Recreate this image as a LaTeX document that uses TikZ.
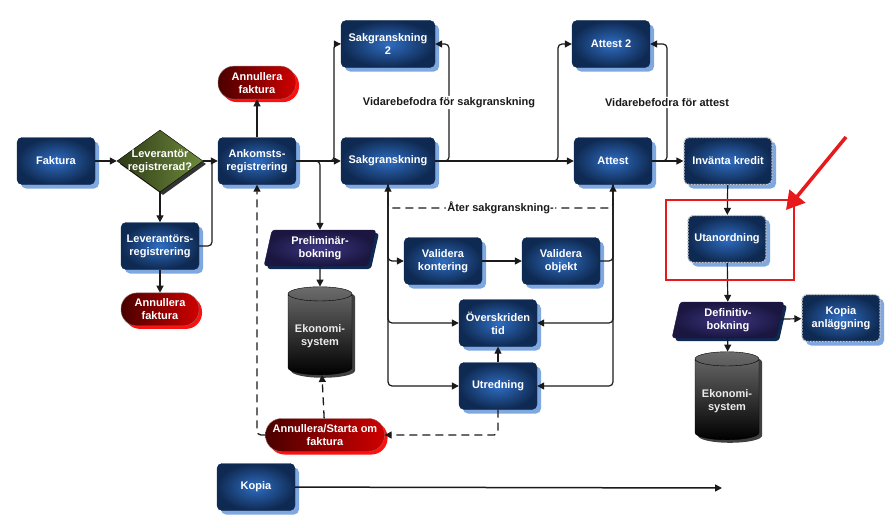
\documentclass[tikz,border=0pt]{standalone}
\usepackage{fontspec}
\setmainfont{Liberation Sans}
\usetikzlibrary{arrows.meta, positioning, shapes.geometric, shadows}
\definecolor{boxdark}{HTML}{0F2A52}
\definecolor{boxmid}{HTML}{2F6DC2}
\definecolor{boxshade}{HTML}{7FA8E0}
\definecolor{reddark}{HTML}{4A0000}
\definecolor{redlight}{HTML}{D00000}
\definecolor{redshade}{HTML}{FF1010}
\definecolor{olivedark}{HTML}{2E3A16}
\definecolor{olivelight}{HTML}{6E8A3C}
\definecolor{bookdark}{HTML}{1A1640}
\definecolor{bookmid}{HTML}{3D3680}
\definecolor{linegray}{HTML}{1A1A1A}
\definecolor{hlred}{HTML}{E8191B}

\begin{document}
\begin{tikzpicture}[
    x=1pt, y=-1pt,
    >={Stealth[inset=0pt, length=7pt, width=7pt]},
    txt/.style={font=\bfseries\fontsize{11}{13}\selectfont, text=white, align=center},
    lbl/.style={font=\bfseries\fontsize{11}{13}\selectfont, text=linegray, fill=white, inner sep=1.5pt},
    proc/.style={txt, rectangle, rounded corners=5pt, draw=boxdark, inner color=boxmid, outer color=boxdark,
        minimum width=78pt, minimum height=47pt,
        drop shadow={shadow xshift=4pt, shadow yshift=-4pt, fill=boxshade, opacity=1}},
    jag/.style={proc, draw=gray!45, line width=1.2pt, dash pattern=on 2pt off 1pt},
    cancel/.style={txt, rectangle, rounded corners=16pt, draw=reddark!60, left color=reddark, right color=redlight,
        minimum width=78pt, minimum height=33pt,
        drop shadow={shadow xshift=3pt, shadow yshift=-3pt, fill=redshade, opacity=1}},
    decision/.style={txt, diamond, aspect=1.4, draw=black, left color=olivedark, right color=olivelight,
        inner sep=-6pt, minimum width=86pt, minimum height=62pt,
        drop shadow={shadow xshift=3pt, shadow yshift=-3pt, fill=black!80, opacity=1}},
    book/.style={txt, trapezium, trapezium left angle=75, trapezium right angle=105, trapezium stretches body,
        rounded corners=3pt, draw=bookdark, inner color=bookmid, outer color=bookdark, minimum width=112pt, minimum height=36pt,
        drop shadow={shadow xshift=3pt, shadow yshift=-3pt, fill=boxdark, opacity=1}},
    store/.style={txt, cylinder, shape border rotate=90, aspect=0.25, draw=black, text=gray!15,
        top color=gray!85!black, bottom color=black, minimum width=64pt, minimum height=88pt,
        drop shadow={shadow xshift=3pt, shadow yshift=-3pt, fill=black!75, opacity=1}},
    line/.style={draw=linegray, line width=1.2pt, rounded corners=4pt},
    back/.style={line, line width=1.3pt, dash pattern=on 8pt off 5pt}
]
\useasboundingbox (0,0) rectangle (896,527);

% leverantör
\node[proc] (faktura) at (56,161) {Faktura};
\node[decision] (levkoll) at (160,161) {Leverantör\\registrerad?};
\node[proc] (levreg) at (160,246) {Leverantörs-\\registrering};
\node[cancel, below=23pt of levreg] (annull1) {Annullera\\faktura};

% ankomst
\node[proc] (ankomst) at (257,161) {Ankomsts-\\registrering};
\node[cancel, above=38pt of ankomst] (annull2) {Annullera\\faktura};
\node[book] (prelbok) at (320,248) {Preliminär-\\bokning};
\node[store] (ekov) at (320,336) {Ekonomi-\\system};
\node[cancel, minimum width=119pt] (omstart) at (325,435) {Annullera/Starta om\\faktura};

% sakgranskning
\node[proc, minimum width=94pt] (sak) at (388,161) {Sakgranskning};
\node[proc, minimum width=94pt] (sak2) at (388,44) {Sakgranskning\\2};
\node[proc] (valkont) at (443,261) {Validera\\kontering};
\node[proc] (valobj) at (561,261) {Validera\\objekt};
\node[proc] (overtid) at (498,323) {Överskriden\\tid};
\node[proc] (utred) at (498,386) {Utredning};

% attest
\node[proc] (attest) at (613,161) {Attest};
\node[proc] (attest2) at (611,44) {Attest 2};
\node[jag, minimum width=88pt] (kredit) at (728,161) {Invänta kredit};
\node[jag] (utanord) at (727,239) {Utanordning};
\node[book] (defbok) at (728,320) {Definitiv-\\bokning};
\node[jag] (kopiaanl) at (841,318) {Kopia\\anläggning};
\node[store] (ekoh) at (727,401) {Ekonomi-\\system};

\node[proc] (kopia) at (256,487) {Kopia};

% bend points
\coordinate (join1) at (212,161);
\coordinate (split2) at (334,161);
\coordinate (sakfwd) at (449,161);
\coordinate (attsplit) at (558,161);
\coordinate (attfwd) at (667,161);
\coordinate (ater) at (613,208);
\coordinate (kopiaend) at (722,488);

% arrows
\draw[line, ->] (faktura) -- (levkoll);
\draw[line, ->] (levkoll) -- (levreg);
\draw[line, ->] (levreg) -- (annull1);
\draw[line, ->] (levkoll.east) -- (ankomst.west);
\draw[line] (levreg.east) -| (join1);
\draw[line, ->] (ankomst) -- (annull2);
\draw[line, ->] (ankomst) -- (sak);
\draw[line, ->] (ankomst.east) -| (prelbok.north);
\draw[line, ->] (ankomst.east) -- (split2) |- (sak2.west);
\draw[line, ->] (sak.east) -- (sakfwd) |- node[lbl, pos=0.25] {Vidarebefodra för sakgranskning} (sak2.east);
\draw[line, ->] (sak) -- (attest);
\draw[line, ->] (sak.east) -- (attsplit) |- (attest2.west);
\draw[line, ->] (attest) -- (kredit);
\draw[line, ->] (attest.east) -- (attfwd) |- node[lbl, pos=0.25] {Vidarebefodra för attest} (attest2.east);
\draw[line, ->] (kredit) -- (utanord);
\draw[line, ->] (utanord) -- (defbok);
\draw[line, ->] (defbok) -- (kopiaanl);
\draw[line, ->] (defbok) -- (ekoh);
\draw[line, ->] (prelbok) -- (ekov);

% granskning loop
\draw[line, ->] (sak.south) |- (valkont.west);
\draw[line, ->] (sak.south) |- (overtid.west);
\draw[line, ->] (sak.south) |- (utred.west);
\draw[line, ->] (valkont) -- (valobj);
\draw[line, ->] (valobj.east) -| (attest.south);
\draw[line, ->] (attest.south) |- (overtid.east);
\draw[line, ->] (attest.south) |- (utred.east);
\draw[line, ->] (utred) -- (overtid);
\draw[back, ->] (attest.south) -- (ater) -| node[lbl, pos=0.25] {Åter sakgranskning-} (sak.south);

% dashed returns
\draw[back, ->] (omstart) -- (ekov);
\draw[back, ->] (omstart.west) -| (ankomst.south);
\draw[back, ->] (utred.south) |- (omstart.east);

\draw[line, ->, line width=1.5pt] (kopia) -- (kopiaend);

% highlight
\node[draw=hlred, line width=1.5pt, minimum width=128pt, minimum height=80pt] (markbox) at (730,240) {};
\coordinate (pointer) at (846,137);
\coordinate (pointtip) at (786,210);
\draw[hlred, line width=3.5pt, -{Triangle[length=18pt, width=20pt]}] (pointer) -- (pointtip);

\end{tikzpicture}
\end{document}
